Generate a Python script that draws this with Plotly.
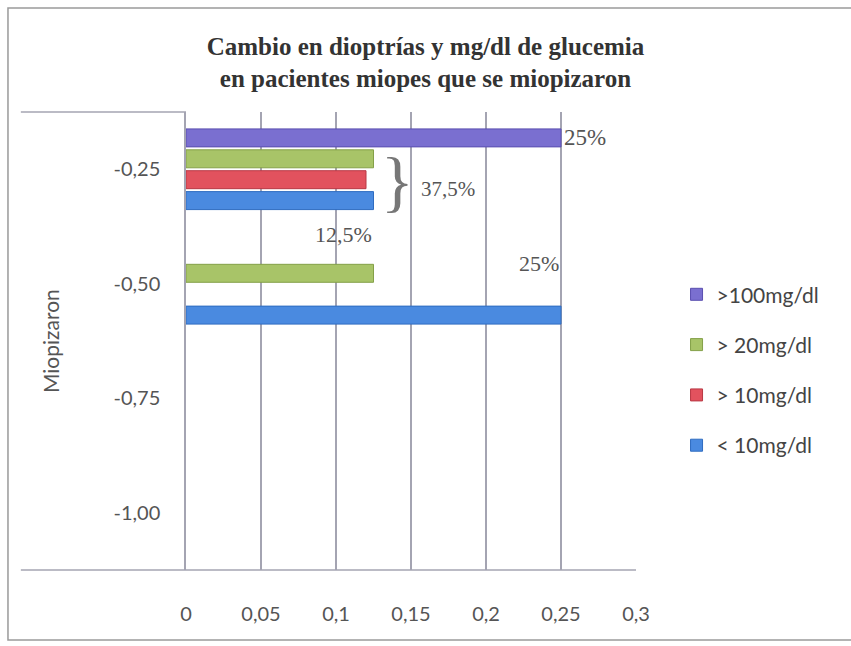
import plotly.graph_objects as go

# Categories (change in diopters), listed bottom to top
categorias = ["-1,00", "-0,75", "-0,50", "-0,25"]

# Share of patients per glucose-change group
menos_10 = [None, None, 0.25, 0.125]      # < 10mg/dl
mas_10 = [None, None, None, 0.12]         # > 10mg/dl
mas_20 = [None, None, 0.125, 0.125]       # > 20mg/dl
mas_100 = [None, None, None, 0.25]        # >100mg/dl

series = [
    ("< 10mg/dl", menos_10, "#4a8ae0", "#2f6cc0"),
    ("> 10mg/dl", mas_10, "#e2525e", "#b83844"),
    ("> 20mg/dl", mas_20, "#a8c468", "#84a048"),
    (">100mg/dl", mas_100, "#7a6fd0", "#5a4fb0"),
]

x_ticks = [0, 0.05, 0.1, 0.15, 0.2, 0.25, 0.3]

fig = go.Figure()
for i, (nombre, valores, color, borde) in enumerate(series):
    fig.add_trace(go.Bar(
        y=categorias, x=valores, name=nombre, orientation="h",
        marker=dict(color=color, line=dict(color=borde, width=1)),
        legendgroup=f"g{i}", legendrank=len(series) - i,
    ))

serif = "Liberation Serif"
sans = "Lato"
txt = "#555555"

anotaciones = [
    dict(x=mas_100[3], y="-0,25", text="25%", xanchor="left", xshift=1, yshift=32,
         font=dict(family=serif, size=23, color=txt)),
    dict(x=0.1413, y="-0,25", text="}", xanchor="center", yshift=-12,
         font=dict(family=serif, size=68, color="#777777")),
    dict(x=0.1555, y="-0,25", text="37,5%", xanchor="left", yshift=-20,
         font=dict(family=serif, size=21, color=txt)),
    dict(x=menos_10[3], y="-0,25", text="12,5%", xanchor="right", yshift=-65,
         font=dict(family=serif, size=22, color=txt)),
    dict(x=menos_10[2], y="-0,50", text="25%", xanchor="right", yshift=20,
         font=dict(family=serif, size=22, color=txt)),
    dict(x=-0.302, y=0.5, xref="paper", yref="paper", text="Miopizaron",
         textangle=-90, xanchor="center", yanchor="middle",
         font=dict(family=sans, size=21, color=txt)),
]
for a in anotaciones:
    a.setdefault("xref", "x")
    a.setdefault("yref", "y")
    fig.add_annotation(showarrow=False, **a)

gris = "#a4a4b2"
# frame lines around the axis area and the outer border
fig.add_shape(type="line", xref="paper", yref="paper", x0=-0.367, x1=1, y0=0, y1=0,
              line=dict(color=gris, width=1.5))
fig.add_shape(type="line", xref="paper", yref="paper", x0=-0.367, x1=0, y0=1, y1=1,
              line=dict(color=gris, width=1.5))
fig.add_shape(type="rect", xref="paper", yref="paper", x0=-0.3956, x1=1.5, y0=-0.153, y1=1.227,
              line=dict(color="#9a9a9a", width=1.5))

fig.update_layout(
    width=851, height=646,
    margin=dict(l=186, r=215, t=112, b=76, autoexpand=False),
    paper_bgcolor="white", plot_bgcolor="white",
    separators=",.",
    barmode="group", bargap=0.27, bargroupgap=0.14,
    title=dict(
        text="<b>Cambio en dioptrías y mg/dl de glucemia<br>en pacientes miopes que se miopizaron</b>",
        x=0.5, xref="container", xanchor="center",
        y=0.915, yref="container", yanchor="top",
        font=dict(family=serif, size=25, color="#333333"),
    ),
    xaxis=dict(
        range=[0, 0.3], tickvals=x_ticks, showgrid=True, gridcolor=gris, gridwidth=1.5,
        zeroline=False, showline=False, ticks="",
        ticklabelstandoff=30,
        tickfont=dict(family=sans, size=20, color=txt),
    ),
    yaxis=dict(
        type="category", categoryorder="array", categoryarray=categorias,
        showgrid=False, showline=True, linecolor=gris, linewidth=1.5,
        ticks="", ticklabelstandoff=20,
        tickfont=dict(family=sans, size=20, color=txt),
    ),
    legend=dict(
        x=0.795, xref="container", xanchor="left",
        y=0.427, yref="container", yanchor="middle",
        bgcolor="rgba(0,0,0,0)",
        traceorder="grouped", tracegroupgap=20,
        font=dict(family=sans, size=21, color="#444444"),
        itemwidth=30,
    ),
    showlegend=True,
)

fig.write_html("out.html")
